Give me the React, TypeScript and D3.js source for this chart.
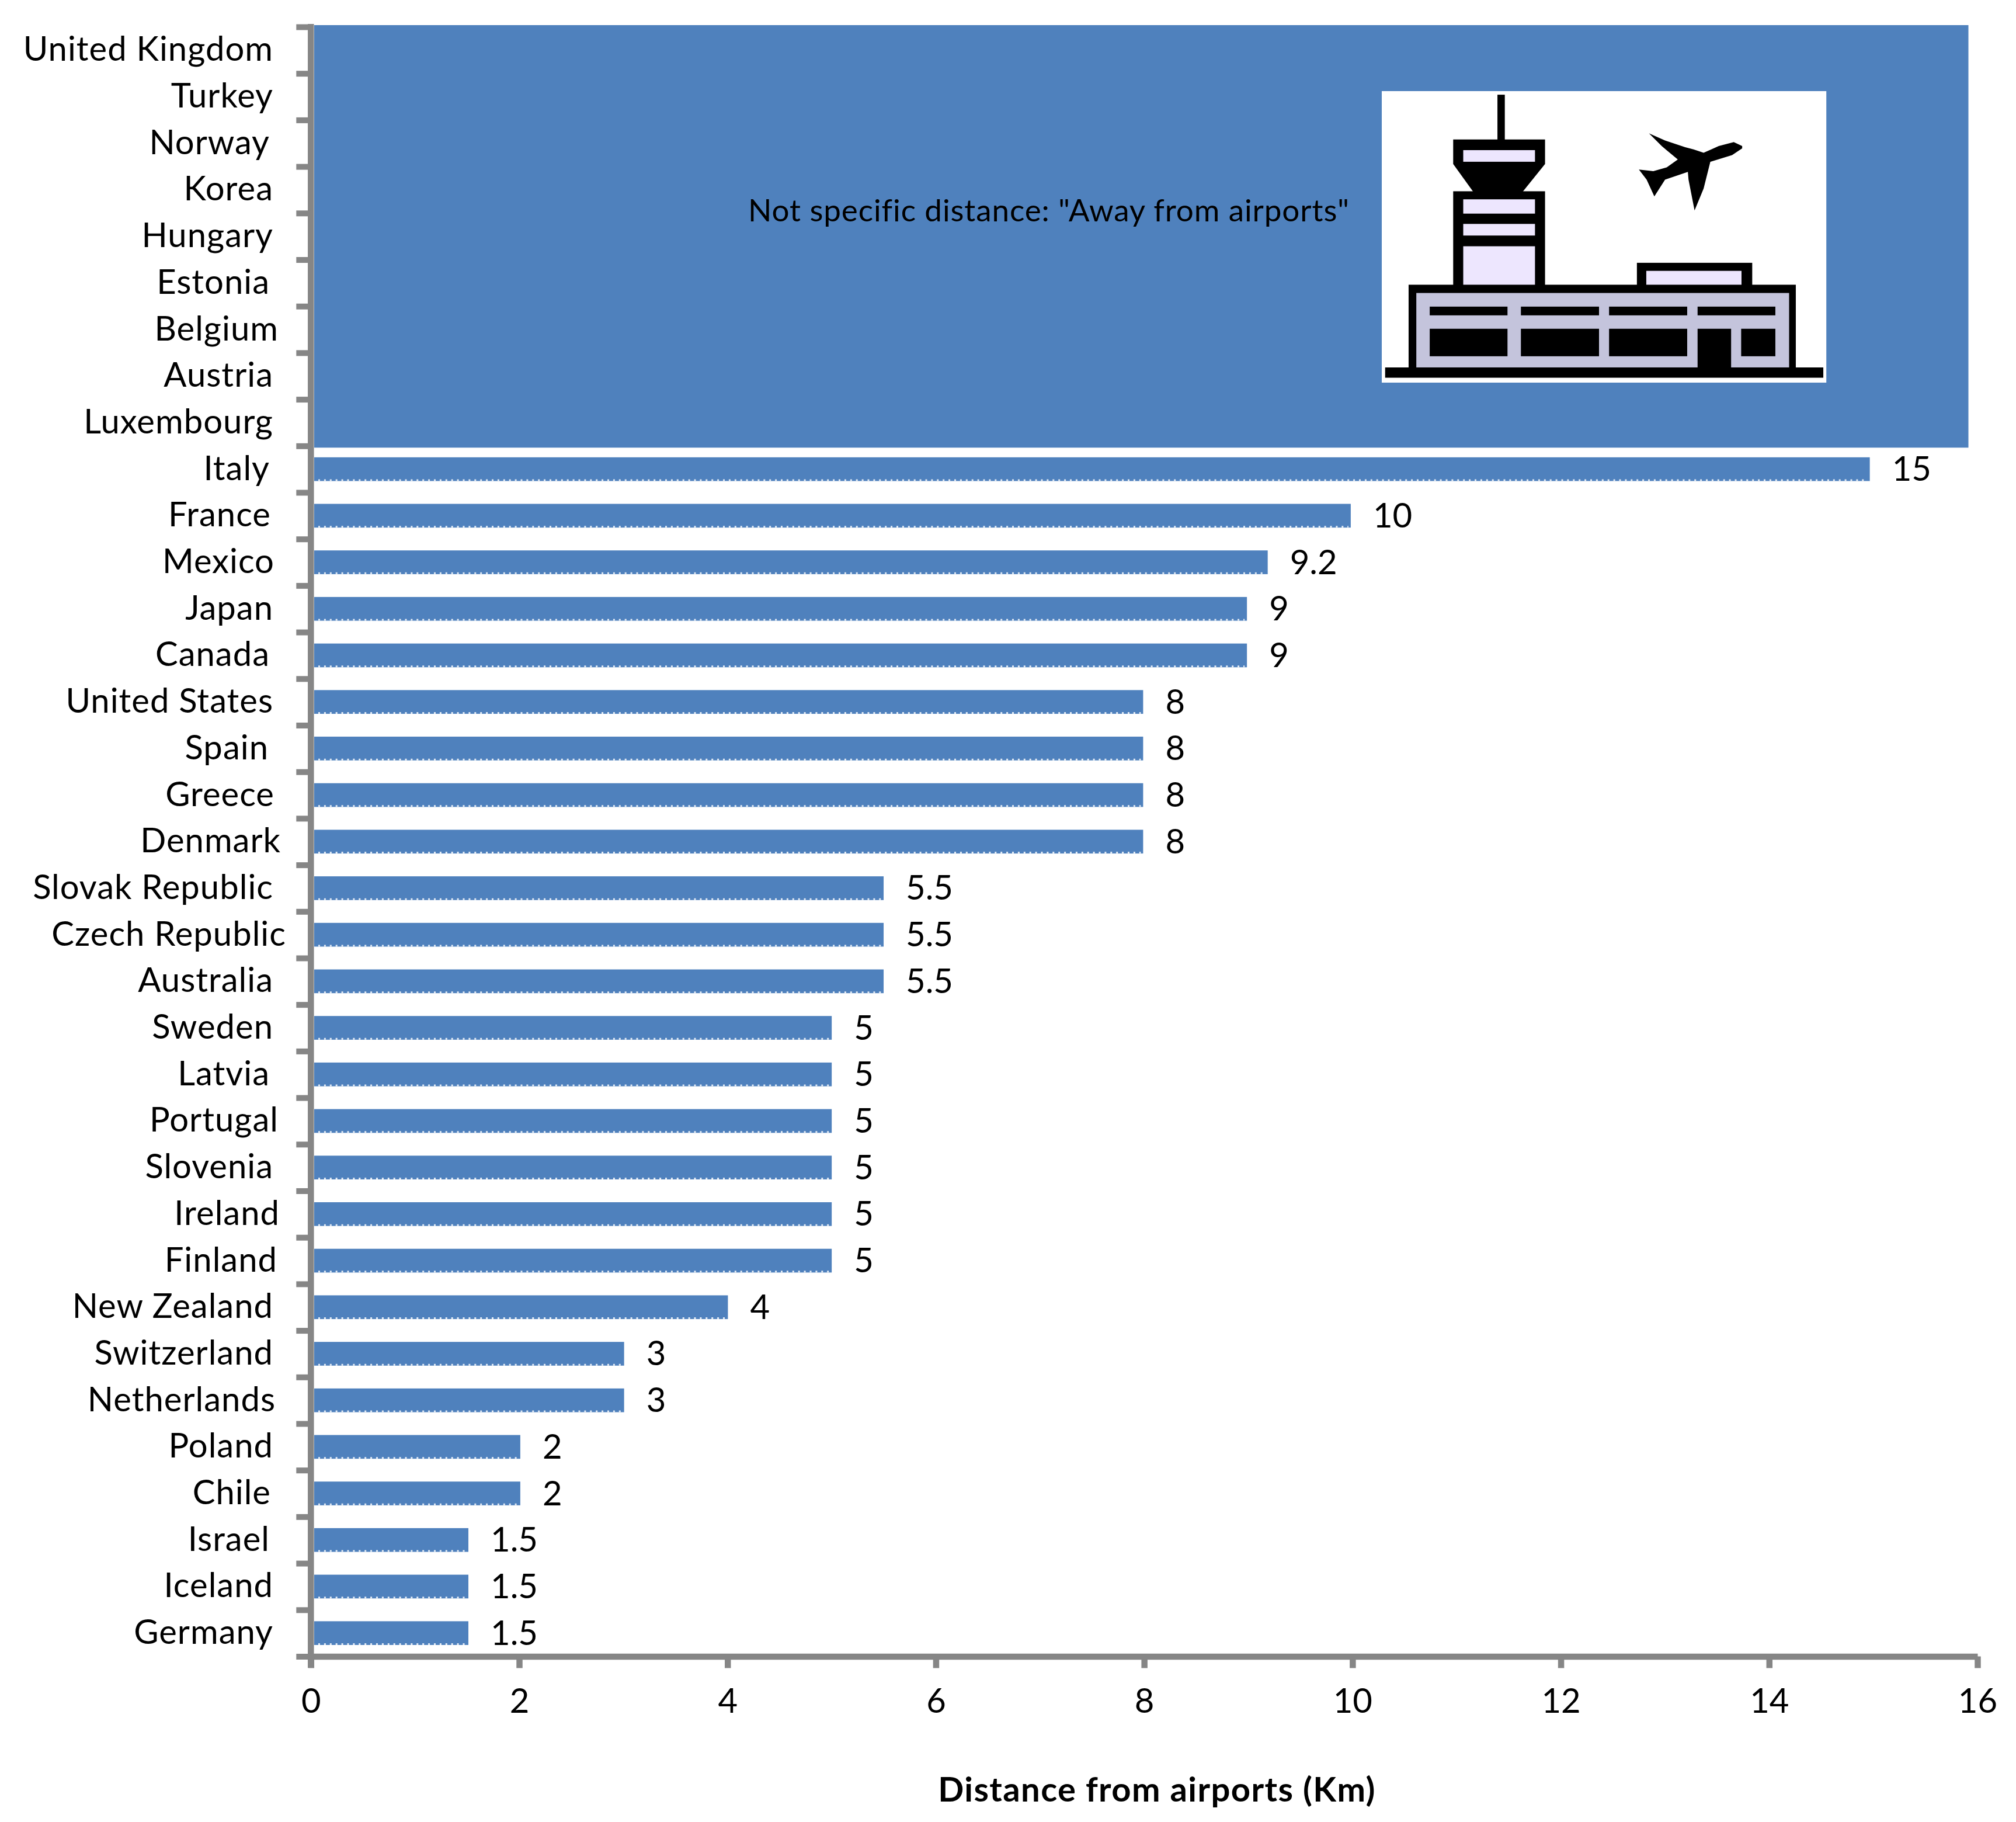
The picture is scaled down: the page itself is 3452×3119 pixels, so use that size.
import { useEffect, useRef } from 'react';
import * as d3 from 'd3';

const WIDTH = 3452;
const HEIGHT = 3119;

// countries with a plain "away from airports" rule, top of the chart
const awayCountries = ['United Kingdom', 'Turkey', 'Norway', 'Korea', 'Hungary', 'Estonia', 'Belgium', 'Austria', 'Luxembourg'];
const distanceCountries = [
  'Italy', 'France', 'Mexico', 'Japan', 'Canada', 'United States', 'Spain', 'Greece', 'Denmark',
  'Slovak Republic', 'Czech Republic', 'Australia', 'Sweden', 'Latvia', 'Portugal', 'Slovenia',
  'Ireland', 'Finland', 'New Zealand', 'Switzerland', 'Netherlands', 'Poland', 'Chile', 'Israel',
  'Iceland', 'Germany',
];
const distances = [15, 10, 9.2, 9, 9, 8, 8, 8, 8, 5.5, 5.5, 5.5, 5, 5, 5, 5, 5, 5, 4, 3, 3, 2, 2, 1.5, 1.5, 1.5];
const awayBandValue = 15.95;
const xTicks = [0, 2, 4, 6, 8, 10, 12, 14, 16];
const axisTitle = 'Distance from airports (Km)';
const bandNote = 'Not specific distance: "Away from airports"';

// the labels are not flush in the original (trailing spaces), px from the common right edge
const labelShift: Record<string, number> = {
  Norway: -6, Estonia: -6, Belgium: 9, Italy: -6, France: -4, Mexico: 2, Canada: -6, Spain: -8,
  Greece: 2, Denmark: 13, 'Czech Republic': 22, Latvia: -6, Portugal: 9, Ireland: 11, Finland: 7,
  Netherlands: 4, Chile: -4, Israel: -6,
};

const BLUE = '#4f81bd';
const GREY = '#868686';
const FONT = 'Lato, sans-serif';

// airport clip art, in its own 1742/2613 scaled box
function AirportIcon() {
  const lilac = '#ede6fe';
  const blocks: [number, number, number, number, string][] = [
    [115, 94, 1441, 1398, '#fff'],
    [460, 110, 482, 312, '#000'],
    [328, 542, 602, 965, '#000'],
    [358, 578, 572, 642, lilac],
    [358, 688, 572, 740, lilac],
    [358, 788, 572, 962, lilac],
    [876, 862, 1220, 965, '#000'],
    [904, 898, 1188, 962, lilac],
    [195, 960, 1350, 1340, '#000'],
    [218, 997, 1330, 1330, '#c4c4dc'],
    [258, 1058, 490, 1097, '#000'],
    [530, 1058, 763, 1097, '#000'],
    [793, 1058, 1026, 1097, '#000'],
    [1057, 1058, 1289, 1097, '#000'],
    [258, 1157, 490, 1280, '#000'],
    [530, 1157, 763, 1280, '#000'],
    [793, 1157, 1026, 1280, '#000'],
    [1187, 1157, 1289, 1280, '#000'],
    [1057, 1157, 1157, 1340, '#000'],
    [125, 1330, 1432, 1376, '#000'],
  ];
  return (
    <g transform={`translate(2300,120) scale(${1 / 1.742},${1 / 2.613})`}>
      {blocks.map(([x0, y0, x1, y1, fill], i) => (
        <rect key={i} x={x0} y={y0} width={x1 - x0} height={y1 - y0} fill={fill} />
      ))}
      <path d="M328,310 L602,310 L602,420 L535,545 L388,545 L328,420 Z" fill="#000" />
      <rect x={358} y={358} width={214} height={52} fill={lilac} />
      <path
        d="M1190,340 L1165,322 L1120,340 L1075,370 L1045,355 L1020,345 L960,315 L912,283 L950,340 L998,400 L965,435 L925,452 L882,445 L905,490 L928,565 L960,490 L1028,455 L1030,490 L1048,628 L1075,530 L1095,410 L1160,380 L1190,350 Z"
        fill="#000"
      />
    </g>
  );
}

export default function App() {
  const svgRef = useRef<SVGSVGElement>(null);

  useEffect(() => {
    if (!svgRef.current) return;
    const svg = d3.select(svgRef.current);
    svg.select('.chart').remove();
    const g = svg.insert('g', ':first-child').attr('class', 'chart');

    const countries = [...awayCountries, ...distanceCountries];
    const top = 46;
    const bottom = 2835.5;

    const x = d3.scaleLinear().domain([0, 16]).range([532.3, 3386]);
    // bars sit on a slightly tighter scale than the tick marks in the source image
    const barX = d3.scaleLinear().domain([0, 16]).range([535.4, 3379.4]);
    const y = d3.scaleBand<string>().domain(countries).range([top, bottom]).paddingInner(0.49).paddingOuter(0.245);
    const rowEdge = d3.scaleLinear().domain([0, countries.length]).range([top, bottom]);

    // solid block behind the countries without a number
    g.append('rect')
      .attr('x', 538)
      .attr('y', rowEdge(0) - 3)
      .attr('width', barX(awayBandValue) - 538)
      .attr('height', rowEdge(awayCountries.length) - rowEdge(0) + 6)
      .attr('fill', BLUE);

    const bars = g.append('g').selectAll('g').data(distanceCountries).join('g');
    bars.append('rect')
      .attr('x', 538)
      .attr('y', (d) => y(d)!)
      .attr('width', (_, i) => barX(distances[i]) - 538)
      .attr('height', y.bandwidth())
      .attr('fill', BLUE);
    // the picture has a dotted white bottom edge on each bar
    bars.append('line')
      .attr('x1', 545)
      .attr('x2', (_, i) => barX(distances[i]) - 4)
      .attr('y1', (d) => y(d)! + y.bandwidth() - 1.5)
      .attr('y2', (d) => y(d)! + y.bandwidth() - 1.5)
      .attr('stroke', '#fff')
      .attr('stroke-width', 3)
      .attr('stroke-dasharray', '3 6.9')
      .attr('opacity', 0.85);
    bars.append('text')
      .attr('x', (_, i) => barX(distances[i]) + 38)
      .attr('y', (d) => y(d)! + y.bandwidth() / 2 + 20)
      .attr('font-size', 58)
      .attr('font-family', FONT)
      .text((_, i) => String(distances[i]));

    g.append('text')
      .attr('x', 1281)
      .attr('y', 378.7)
      .attr('font-size', 53)
      .attr('letter-spacing', 0.9)
      .attr('font-family', FONT)
      .text(bandNote);

    const axisLeft = d3.axisLeft(rowEdge).tickValues(d3.range(countries.length + 1)).tickFormat(() => '').tickSize(25).tickSizeOuter(0);
    const yAxis = g.append('g').attr('transform', 'translate(532.3,0)').call(axisLeft);
    yAxis.select('.domain').attr('d', `M0,${top - 5}V2855`).attr('stroke', GREY).attr('stroke-width', 10.5);
    yAxis.selectAll('.tick line').attr('stroke', GREY).attr('stroke-width', 10);

    const axisBottom = d3.axisBottom(x).tickValues(xTicks).tickSize(20).tickSizeOuter(0).tickPadding(0);
    const xAxis = g.append('g').attr('transform', `translate(0,${bottom})`).call(axisBottom);
    xAxis.select('.domain').attr('stroke', GREY).attr('stroke-width', 10.5);
    xAxis.selectAll('.tick line').attr('stroke', GREY).attr('stroke-width', 10.5);
    xAxis.selectAll('.tick text')
      .attr('y', 96)
      .attr('dy', 0)
      .attr('font-size', 58)
      .attr('font-family', FONT)
      .attr('fill', '#000');

    g.append('g').selectAll('text').data(countries).join('text')
      .attr('x', (d) => 468 + (labelShift[d] ?? 0))
      .attr('y', (d) => y(d)! + y.bandwidth() / 2 + 18.5)
      .attr('text-anchor', 'end')
      .attr('font-size', 58)
      .attr('letter-spacing', 1)
      .attr('font-family', FONT)
      .text((d) => d);

    g.append('text')
      .attr('x', 1981)
      .attr('y', 3084)
      .attr('text-anchor', 'middle')
      .attr('font-size', 58)
      .attr('font-weight', 700)
      .attr('letter-spacing', 1.4)
      .attr('font-family', FONT)
      .text(axisTitle);
  }, []);

  return (
    <svg
      ref={svgRef}
      width={WIDTH}
      height={HEIGHT}
      viewBox={`0 0 ${WIDTH} ${HEIGHT}`}
      style={{ position: 'absolute', left: 0, top: 0, background: '#fff' }}
    >
      <AirportIcon />
    </svg>
  );
}
